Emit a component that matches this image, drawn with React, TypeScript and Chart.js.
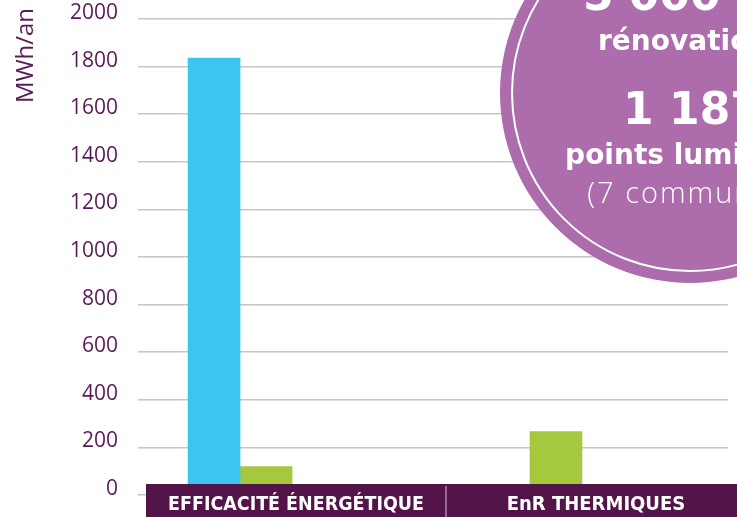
import React, { useEffect, useRef } from "react";
import { Chart, registerables } from "chart.js";

Chart.register(...registerables);

// ---- data ----
const categories = ["EFFICACITÉ ÉNERGÉTIQUE", "EnR THERMIQUES"];
const blueValues = [1836, 0];
const greenValues = [119, 266];
const yMin = 0;
const yMax = 2000;
const yStep = 200;
const yTitle = "MWh/an";
const circleLines = ["5 000 m²", "rénovations", "1 187", "points lumineux", "(7 communes)"];

// ---- styles ----
const PURPLE_TEXT = "#5b1a55";
const BAND = "#531449";
const BLUE = "#3cc5ee";
const GREEN = "#a6c83f";
const GRID = "#c8c4c7";
const CIRCLE = "#ad6cac";

const titlePlugin = {
  id: "yTitleRot",
  afterDraw(chart: any) {
    const ctx = chart.ctx;
    ctx.save();
    ctx.translate(33, 103);
    ctx.rotate(-Math.PI / 2);
    ctx.font = "400 24px 'Open Sans'";
    ctx.fillStyle = PURPLE_TEXT;
    ctx.textAlign = "left";
    ctx.textBaseline = "alphabetic";
    ctx.fillText(yTitle, 0, 0, 95);
    ctx.restore();
  },
};

const bandPlugin = {
  id: "band",
  afterDatasetsDraw(chart: any) {
    const { ctx, chartArea, width, height } = chart;
    const left = chartArea.left + 8;
    const top = 484;
    const seg = 300;
    ctx.save();
    ctx.fillStyle = BAND;
    ctx.fillRect(left, top, width - left, height - top);
    categories.forEach((c, i) => {
      const x0 = left + i * seg;
      if (i > 0) {
        ctx.strokeStyle = "#a88ea5";
        ctx.lineWidth = 1.5;
        ctx.beginPath();
        ctx.moveTo(x0, top + 2);
        ctx.lineTo(x0, height);
        ctx.stroke();
      }
      ctx.fillStyle = "#ffffff";
      ctx.font = "bold 20px 'DejaVu Sans Condensed', 'DejaVu Sans', sans-serif";
      ctx.textAlign = "center";
      ctx.textBaseline = "alphabetic";
      ctx.fillText(c, x0 + seg / 2, 510, 256);
    });
    ctx.restore();
  },
};

const circlePlugin = {
  id: "circle",
  afterDraw(chart: any) {
    const ctx = chart.ctx;
    const cx = 690;
    const cy = 93;
    const tx = 692;
    ctx.save();
    ctx.fillStyle = CIRCLE;
    ctx.beginPath();
    ctx.arc(cx, cy, 190, 0, Math.PI * 2);
    ctx.fill();
    ctx.strokeStyle = "#ffffff";
    ctx.lineWidth = 2;
    ctx.beginPath();
    ctx.arc(cx, cy, 178, 0, Math.PI * 2);
    ctx.stroke();
    ctx.fillStyle = "#ffffff";
    ctx.textAlign = "center";
    ctx.textBaseline = "alphabetic";
    const fonts = [
      "bold 44px 'DejaVu Sans'",
      "bold 28px 'DejaVu Sans'",
      "bold 44px 'DejaVu Sans'",
      "bold 28px 'DejaVu Sans'",
      "300 29px 'Open Sans'",
    ];
    const spacing = ["0px", "0px", "0px", "0px", "2px"];
    const baselines = [10, 50, 124, 164, 203];
    circleLines.forEach((t, i) => {
      ctx.font = fonts[i];
      (ctx as any).letterSpacing = spacing[i];
      ctx.fillText(t, tx, baselines[i]);
    });
    ctx.restore();
  },
};

export default function App() {
  const ref = useRef<HTMLCanvasElement>(null);
  useEffect(() => {
    if (!ref.current) return;
    const chart = new Chart(ref.current, {
      type: "bar",
      data: {
        datasets: [
          {
            label: "bleu",
            data: categories.map((_, i) => ({ x: i, y: blueValues[i] })),
            backgroundColor: BLUE,
            barThickness: 52,
          },
          {
            label: "vert",
            data: categories.map((_, i) => ({ x: i, y: greenValues[i] })),
            backgroundColor: GREEN,
            barThickness: 52,
          },
        ],
      },
      options: {
        animation: false,
        responsive: false,
        devicePixelRatio: 1,
        layout: { padding: { top: 19, right: 9, bottom: 22, left: 0 } },
        plugins: { legend: { display: false }, tooltip: { enabled: false } },
        scales: {
          x: {
            type: "linear",
            min: -0.352,
            max: 1.683,
            offset: false,
            display: false,
            grid: { display: false },
          },
          y: {
            min: yMin,
            max: yMax,
            ticks: {
              stepSize: yStep,
              color: PURPLE_TEXT,
              font: { family: "'Open Sans'", size: 21 },
              padding: 20,
              labelOffset: -6,
              callback: (v: any) => String(v),
            },
            grid: { color: GRID, lineWidth: 1.5, drawTicks: false },
            border: { display: false },
            afterFit(scale: any) {
              scale.width = 138;
              scale.paddingTop = 0;
              scale.paddingBottom = 0;
            },
          },
        },
      } as any,
      plugins: [bandPlugin, circlePlugin, titlePlugin],
    });
    return () => chart.destroy();
  }, []);
  return (
    <div style={{ position: "fixed", left: 0, top: 0, width: 737, height: 517, overflow: "hidden", background: "#fff" }}>
      <canvas ref={ref} width={737} height={517} style={{ display: "block", width: 737, height: 517 }} />
    </div>
  );
}
